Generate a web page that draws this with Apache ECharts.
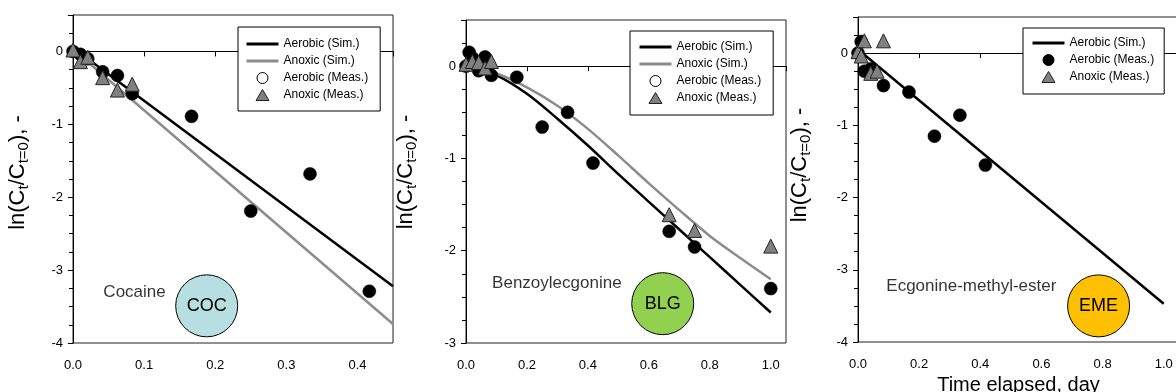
<!DOCTYPE html>
<html>
<head>
<meta charset="utf-8">
<title>ln(Ct/Ct=0) vs time</title>
<script src="https://cdn.jsdelivr.net/npm/echarts@6.0.0/dist/echarts.min.js"></script>
<style>
  html, body { margin: 0; padding: 0; background: #fff; }
  #chart { width: 1176px; height: 392px; }
</style>
</head>
<body>
<div id="chart"></div>
<script>
// sampling times, day
const tCOC = [0, 0.0104, 0.0208, 0.0417, 0.0625, 0.0833, 0.1667, 0.25, 0.3333, 0.4167]
const cocAerobic = [0, -0.04, -0.1, -0.28, -0.33, -0.58, -0.89, -2.19, -1.68, -3.29]
const tCOCanox = [0, 0.0104, 0.0208, 0.0417, 0.0625, 0.0833]
const cocAnoxic = [0.02, -0.14, -0.08, -0.36, -0.53, -0.45]
const tCOCsim = [0, 0.45]
const cocAerobicSim = [0.05, -3.22]
const cocAnoxicSim = [0.03, -3.74]

const tBLG = [0, 0.0104, 0.0208, 0.0417, 0.0625, 0.0833, 0.1667, 0.25, 0.3333, 0.4167, 0.6667, 0.75, 1.0]
const blgAerobic = [0, 0.15, 0.09, -0.05, 0.1, -0.1, -0.12, -0.66, -0.5, -1.05, -1.79, -1.96, -2.41]
const tBLGanox = [0, 0.0208, 0.0417, 0.0625, 0.0833, 0.6667, 0.75, 1.0]
const blgAnoxic = [0.02, 0.05, 0.04, -0.02, 0.05, -1.61, -1.78, -1.95]
const tBLGsim = [0, 0.1, 0.2, 0.3, 0.4, 0.5, 0.6, 0.7, 0.8, 0.9, 1.0]
const blgAerobicSim = [0, -0.1, -0.3, -0.57, -0.86, -1.17, -1.47, -1.77, -2.07, -2.37, -2.67]
const blgAnoxicSim = [0, -0.08, -0.23, -0.43, -0.68, -0.97, -1.27, -1.56, -1.84, -2.08, -2.31]

const tEME = [0, 0.0104, 0.0208, 0.0417, 0.0833, 0.1667, 0.25, 0.3333, 0.4167]
const emeAerobic = [0, 0.16, -0.25, -0.22, -0.45, -0.54, -1.15, -0.86, -1.55]
const tEMEanox = [0, 0.0104, 0.0208, 0.0417, 0.0625, 0.0833]
const emeAnoxic = [0.02, -0.04, 0.17, -0.28, -0.25, 0.17]
const tEMEsim = [0, 1.0]
const emeAerobicSim = [0.05, -3.47]

const legendText = {
  'coc-aer-sim': 'Aerobic (Sim.)', 'coc-anox-sim': 'Anoxic (Sim.)',
  'coc-aer-meas': 'Aerobic (Meas.)', 'coc-anox-meas': 'Anoxic (Meas.)',
  'blg-aer-sim': 'Aerobic (Sim.)', 'blg-anox-sim': 'Anoxic (Sim.)',
  'blg-aer-meas': 'Aerobic (Meas.)', 'blg-anox-meas': 'Anoxic (Meas.)',
  'eme-aer-sim': 'Aerobic (Sim.)', 'eme-aer-meas': 'Aerobic (Meas.)', 'eme-anox-meas': 'Anoxic (Meas.)',
}

const FONT = '"Liberation Sans", Arial, Helvetica, sans-serif'
const BLACK = '#000'
const GREY = '#8c8c8c'
const TRI = '#808080'

function pairs(xs, ys) { return xs.map((x, i) => [x, ys[i]]) }

const chart = echarts.init(document.getElementById('chart'), null, { renderer: 'canvas' })

function xAxis(i, max, interval, name) {
  return {
    gridIndex: i, type: 'value', min: 0, max, interval,
    name: name || '', nameLocation: 'middle', nameGap: 31,
    nameTextStyle: { fontFamily: FONT, fontSize: 20, color: BLACK },
    axisLine: { lineStyle: { color: BLACK, width: 1 } },
    axisTick: { length: 5, lineStyle: { color: BLACK } },
    axisLabel: {
      fontFamily: FONT, fontSize: 13, color: BLACK, margin: 16,
      formatter: v => Math.abs(v * 10 - Math.round(v * 10)) < 1e-6 ? v.toFixed(1) : ''
    },
    splitLine: { show: false },
  }
}

function yAxis(i, min, gap, shift) {
  return {
    gridIndex: i, type: 'value', min, max: 0.5, interval: 1,
    name: '{a|ln(C}{s|t}{a|/C}{s|t=0}{a|), -}',
    nameLocation: 'middle', nameGap: gap, nameRotate: 90,
    nameTextStyle: {
      fontFamily: FONT, fontSize: 22, color: BLACK, padding: [0, 0, 0, shift],
      rich: {
        a: { fontFamily: FONT, fontSize: 22, color: BLACK },
        s: { fontFamily: FONT, fontSize: 15, color: BLACK, padding: [12, 0, 0, 0] },
      },
    },
    axisLine: { lineStyle: { color: BLACK, width: 1 } },
    axisTick: { length: 5, lineStyle: { color: BLACK } },
    minorTick: { show: true, splitNumber: 4, length: 4, lineStyle: { color: BLACK } },
    axisLabel: {
      fontFamily: FONT, fontSize: 13, color: BLACK, margin: 10,
      formatter: v => Number.isInteger(v) ? String(v) : ''
    },
    splitLine: { show: false },
  }
}

function simLine(name, i, xs, ys, color, smooth) {
  return {
    name, type: 'line', xAxisIndex: i, yAxisIndex: i, data: pairs(xs, ys),
    symbol: 'none', smooth: smooth ? 0.3 : false, z: 2, silent: true,
    itemStyle: { color }, lineStyle: { color, width: 2.5 },
  }
}

function circles(name, i, xs, ys) {
  return {
    name, type: 'scatter', xAxisIndex: i, yAxisIndex: i, data: pairs(xs, ys),
    symbol: 'circle', symbolSize: 13, z: 3, silent: true,
    itemStyle: { color: BLACK, borderColor: BLACK, borderWidth: 0.5, opacity: 1 },
  }
}

function triangles(name, i, xs, ys) {
  return {
    name, type: 'scatter', xAxisIndex: i, yAxisIndex: i, data: pairs(xs, ys),
    symbol: 'triangle', symbolSize: 14, z: 4, silent: true,
    itemStyle: { color: TRI, borderColor: '#222', borderWidth: 1, opacity: 1 },
  }
}

function tag(i, pos, text) {
  return {
    type: 'scatter', xAxisIndex: i, yAxisIndex: i, data: [pos], symbolSize: 1, z: 1, silent: true,
    itemStyle: { color: 'transparent' },
    label: { show: true, position: 'right', distance: 0, formatter: text,
      fontFamily: FONT, fontSize: 17, color: BLACK },
  }
}

function bubble(i, pos, text, fill) {
  return {
    type: 'scatter', xAxisIndex: i, yAxisIndex: i, data: [pos], symbolSize: 62, z: 1, silent: true,
    itemStyle: { color: fill, borderColor: BLACK, borderWidth: 1, opacity: 1 },
    label: { show: true, position: 'inside', formatter: text,
      fontFamily: FONT, fontSize: 18, color: BLACK },
  }
}

function legend(left, top, padding, names) {
  return {
    left, top, orient: 'vertical', padding, itemGap: 5,
    itemWidth: 32, itemHeight: 11, selectedMode: false, z: 10, symbolKeepAspect: true,
    backgroundColor: '#fff', borderColor: BLACK, borderWidth: 1, borderRadius: 0,
    textStyle: { fontFamily: FONT, fontSize: 12, color: BLACK },
    formatter: n => legendText[n],
    data: names,
  }
}

const lineIcon = { width: 3 }
const noDot = { opacity: 0 }
const hollow = { color: '#fff', borderColor: BLACK, borderWidth: 1 }
const triIcon = { color: TRI, borderColor: '#222', borderWidth: 1 }
const TRI_PATH = 'path://M0,11L6.5,0L13,11Z'

chart.setOption({
  animation: false,
  backgroundColor: '#fff',
  grid: [
    { left: 73, right: 783, top: 15, bottom: 49, show: true, borderColor: '#222', borderWidth: 1, outerBoundsMode: 'none' },
    { left: 466, right: 390, top: 20, bottom: 49, show: true, borderColor: '#222', borderWidth: 1, outerBoundsMode: 'none' },
    { left: 858, right: -3, top: 17, bottom: 50, show: true, borderColor: '#222', borderWidth: 1, outerBoundsMode: 'none' },
  ],
  xAxis: [
    xAxis(0, 0.45, 0.1),
    xAxis(1, 1.05, 0.2),
    xAxis(2, 1.05, 0.2, 'Time elapsed, day'),
  ],
  yAxis: [
    yAxis(0, -4, 42, 13),
    yAxis(1, -3, 47, 19),
    yAxis(2, -4, 45, 29),
  ],
  legend: [
    legend(238, 27, [11, 12, 10, 7], [
      { name: 'coc-aer-sim', lineStyle: lineIcon, itemStyle: noDot },
      { name: 'coc-anox-sim', lineStyle: lineIcon, itemStyle: noDot },
      { name: 'coc-aer-meas', itemStyle: hollow },
      { name: 'coc-anox-meas', icon: TRI_PATH, itemStyle: triIcon },
    ]),
    legend(630, 31, [10, 12, 11, 8], [
      { name: 'blg-aer-sim', lineStyle: lineIcon, itemStyle: noDot },
      { name: 'blg-anox-sim', lineStyle: lineIcon, itemStyle: noDot },
      { name: 'blg-aer-meas', itemStyle: hollow },
      { name: 'blg-anox-meas', icon: TRI_PATH, itemStyle: triIcon },
    ]),
    legend(1023, 28, [9, 10, 11, 8], [
      { name: 'eme-aer-sim', lineStyle: lineIcon, itemStyle: noDot },
      { name: 'eme-aer-meas', itemStyle: { color: BLACK, borderColor: BLACK, borderWidth: 1 } },
      { name: 'eme-anox-meas', icon: TRI_PATH, itemStyle: triIcon },
    ]),
  ],
  series: [
    simLine('coc-aer-sim', 0, tCOCsim, cocAerobicSim, BLACK),
    simLine('coc-anox-sim', 0, tCOCsim, cocAnoxicSim, GREY),
    circles('coc-aer-meas', 0, tCOC, cocAerobic),
    triangles('coc-anox-meas', 0, tCOCanox, cocAnoxic),
    tag(0, [0.042, -3.31], 'Cocaine'),
    bubble(0, [0.188, -3.49], 'COC', '#b7dfe1'),

    simLine('blg-aer-sim', 1, tBLGsim, blgAerobicSim, BLACK, true),
    simLine('blg-anox-sim', 1, tBLGsim, blgAnoxicSim, GREY, true),
    circles('blg-aer-meas', 1, tBLG, blgAerobic),
    triangles('blg-anox-meas', 1, tBLGanox, blgAnoxic),
    tag(1, [0.084, -2.35], 'Benzoylecgonine'),
    bubble(1, [0.6455, -2.574], 'BLG', '#92d050'),

    simLine('eme-aer-sim', 2, tEMEsim, emeAerobicSim, BLACK),
    circles('eme-aer-meas', 2, tEME, emeAerobic),
    triangles('eme-anox-meas', 2, tEMEanox, emeAnoxic),
    tag(2, [0.091, -3.23], 'Ecgonine-methyl-ester'),
    bubble(2, [0.787, -3.5], 'EME', '#ffc000'),
  ],
})
</script>
</body>
</html>
